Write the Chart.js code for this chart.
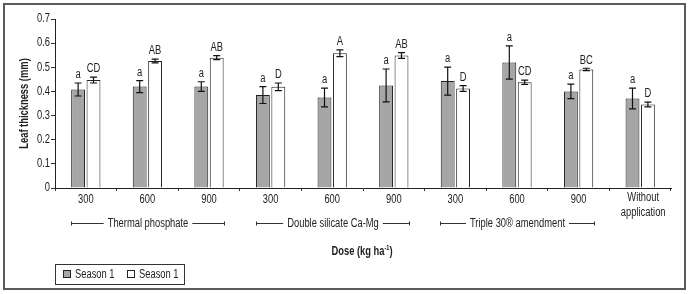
<!DOCTYPE html>
<html>
<head>
<meta charset="utf-8">
<script src="https://cdn.jsdelivr.net/npm/chart.js@4/dist/chart.umd.min.js"></script>
<style>
  html, body { margin: 0; padding: 0; background: #fff; }
  #wrap { width: 689px; height: 294px; position: relative; }
</style>
</head>
<body>
<div id="wrap"><canvas id="grafico"></canvas></div>
<script>
// dados
var doses = ['300', '600', '900', '300', '600', '900', '300', '600', '900', ['Without', 'application']];
var grupos = [
    { nome: 'Thermal phosphate', de: 0, ate: 2 },
    { nome: 'Double silicate Ca-Mg', de: 3, ate: 5 },
    { nome: 'Triple 30\u00ae amendment', de: 6, ate: 8 }
];
var ticksY = [0, 0.1, 0.2, 0.3, 0.4, 0.5, 0.6, 0.7];

var safra1 = [0.408, 0.420, 0.420, 0.385, 0.375, 0.425, 0.443, 0.520, 0.400, 0.371];
var erro1 = [0.027, 0.025, 0.020, 0.035, 0.039, 0.068, 0.058, 0.069, 0.030, 0.043];
var letras1 = ['a', 'a', 'a', 'a', 'a', 'a', 'a', 'a', 'a', 'a'];

var safra2 = [0.447, 0.526, 0.540, 0.419, 0.558, 0.549, 0.412, 0.438, 0.491, 0.346];
var erro2 = [0.012, 0.008, 0.008, 0.016, 0.014, 0.012, 0.012, 0.009, 0.005, 0.010];
var letras2 = ['CD', 'AB', 'AB', 'D', 'A', 'AB', 'D', 'CD', 'BC', 'D'];

var fonte = '"Liberation Sans", Arial, sans-serif';
var corTexto = '#222';
var estreito = 0.78; // a fonte original e condensada

// escreve texto "apertado" na horizontal
function texto(ctx, str, x, y, tam, negrito, alinh, giro) {
    ctx.save();
    ctx.translate(x, y);
    if (giro) ctx.rotate(giro);
    ctx.scale(estreito, 1);
    ctx.font = (negrito ? 'bold ' : '') + tam + 'px ' + fonte;
    ctx.textAlign = alinh || 'center';
    ctx.textBaseline = 'middle';
    ctx.fillText(str, 0, 0);
    ctx.restore();
}

function largura(ctx, str, tam, negrito) {
    ctx.save();
    ctx.font = (negrito ? 'bold ' : '') + tam + 'px ' + fonte;
    const w = ctx.measureText(str).width * estreito;
    ctx.restore();
    return w;
}

// moldura e fundo
const moldura = {
    id: 'moldura',
    beforeDraw(chart) {
        const ctx = chart.ctx;
        ctx.save();
        ctx.fillStyle = '#fff';
        ctx.fillRect(0, 0, chart.width, chart.height);
        ctx.strokeStyle = '#5a5a5a';
        ctx.lineWidth = 2;
        ctx.strokeRect(4, 4, 681, 285);
        ctx.restore();
    }
};

// barras de erro + letras
const barrasErro = {
    id: 'barrasErro',
    afterDatasetsDraw(chart) {
        const ctx = chart.ctx;
        const y = chart.scales.y;
        const series = [[safra1, erro1, letras1], [safra2, erro2, letras2]];
        ctx.save();
        ctx.strokeStyle = '#111';
        ctx.lineWidth = 1.2;
        ctx.fillStyle = corTexto;
        series.forEach(function (s, d) {
            chart.getDatasetMeta(d).data.forEach(function (bar, i) {
                const x = bar.x;
                const yTop = y.getPixelForValue(s[0][i] + s[1][i]);
                const yBot = y.getPixelForValue(s[0][i] - s[1][i]);
                ctx.beginPath();
                ctx.moveTo(x, yTop); ctx.lineTo(x, yBot);
                ctx.moveTo(x - 3.5, yTop); ctx.lineTo(x + 3.5, yTop);
                ctx.moveTo(x - 3.5, yBot); ctx.lineTo(x + 3.5, yBot);
                ctx.stroke();
                texto(ctx, s[2][i], x, yTop - 8, 12);
            });
        });
        ctx.restore();
    }
};

// rotulos dos eixos, grupos, titulo do eixo x e legenda
const anotacoes = {
    id: 'anotacoes',
    afterDraw(chart) {
        const ctx = chart.ctx;
        const x = chart.scales.x;
        const y = chart.scales.y;
        ctx.save();
        ctx.fillStyle = corTexto;

        // eixo y
        ticksY.forEach(function (v) {
            texto(ctx, String(v), 50, y.getPixelForValue(v), 12, false, 'right');
        });
        texto(ctx, 'Leaf thickness (mm)', 25, (chart.chartArea.top + chart.chartArea.bottom) / 2, 12, true, 'center', -Math.PI / 2);

        // eixo x
        doses.forEach(function (d, i) {
            const xc = x.getPixelForValue(i);
            if (Array.isArray(d)) {
                texto(ctx, d[0], xc + 3, 198, 12);
                texto(ctx, d[1], xc + 3, 213, 12);
            } else {
                texto(ctx, d, xc, 200, 12);
            }
        });

        // grupos
        ctx.strokeStyle = '#333';
        ctx.lineWidth = 1;
        const yg = 223.5;
        grupos.forEach(function (g) {
            const x1 = Math.round(x.getPixelForValue(g.de) - 15) + 0.5;
            const x2 = Math.round(x.getPixelForValue(g.ate) + 15) + 0.5;
            const xc = (x1 + x2) / 2;
            const w = largura(ctx, g.nome, 12) + 8;
            ctx.beginPath();
            ctx.moveTo(x1, yg); ctx.lineTo(xc - w / 2, yg);
            ctx.moveTo(xc + w / 2, yg); ctx.lineTo(x2, yg);
            ctx.moveTo(x1, yg - 2); ctx.lineTo(x1, yg + 2);
            ctx.moveTo(x2, yg - 2); ctx.lineTo(x2, yg + 2);
            ctx.stroke();
            texto(ctx, g.nome, xc, yg, 12);
        });

        // titulo eixo x
        const t1 = 'Dose (kg ha', t2 = '-1', t3 = ')';
        const w1 = largura(ctx, t1, 12, true), w2 = largura(ctx, t2, 7, true), w3 = largura(ctx, t3, 12, true);
        const xs = 362 - (w1 + w2 + w3) / 2;
        texto(ctx, t1, xs, 252, 12, true, 'left');
        texto(ctx, t2, xs + w1, 248, 7, true, 'left');
        texto(ctx, t3, xs + w1 + w2, 252, 12, true, 'left');

        // legenda
        ctx.strokeStyle = '#333';
        ctx.strokeRect(55.5, 264.5, 129, 20);
        ctx.strokeStyle = '#222';
        ctx.fillStyle = '#a6a6a6';
        ctx.fillRect(63.5, 270.5, 7, 7);
        ctx.strokeRect(63.5, 270.5, 7, 7);
        ctx.fillStyle = '#fff';
        ctx.fillRect(127.5, 270.5, 7, 7);
        ctx.strokeRect(127.5, 270.5, 7, 7);
        ctx.fillStyle = corTexto;
        texto(ctx, 'Season 1', 75, 274.5, 12, false, 'left');
        texto(ctx, 'Season 1', 139, 274.5, 12, false, 'left');
        ctx.restore();
    }
};

new Chart(document.getElementById('grafico'), {
    type: 'bar',
    data: {
        labels: doses,
        datasets: [
            { label: 'Season 1', data: safra1, backgroundColor: '#a6a6a6', borderColor: '#222', borderWidth: 1 },
            { label: 'Season 1', data: safra2, backgroundColor: '#ffffff', borderColor: '#222', borderWidth: 1 }
        ]
    },
    options: {
        responsive: true,
        maintainAspectRatio: false,
        animation: false,
        layout: { padding: { left: 5, right: 18, top: 19, bottom: 0 } },
        datasets: { bar: { categoryPercentage: 0.5, barPercentage: 0.9 } },
        plugins: {
            legend: { display: false },
            tooltip: { enabled: false }
        },
        scales: {
            x: {
                afterFit: function (s) { s.height = 106; },
                grid: {
                    display: true, offset: true, drawOnChartArea: false,
                    drawTicks: true, tickLength: 3, color: '#333', tickColor: '#333'
                },
                border: { display: true, color: '#222', width: 1 },
                ticks: { display: false, autoSkip: false }
            },
            y: {
                min: 0, max: 0.7,
                afterFit: function (s) { s.width = 50; },
                grid: { display: true, drawOnChartArea: false, tickLength: 4, color: '#333', tickColor: '#333' },
                border: { display: true, color: '#222', width: 1 },
                ticks: { display: false, stepSize: 0.1 }
            }
        }
    },
    plugins: [moldura, barrasErro, anotacoes]
});
</script>
</body>
</html>
